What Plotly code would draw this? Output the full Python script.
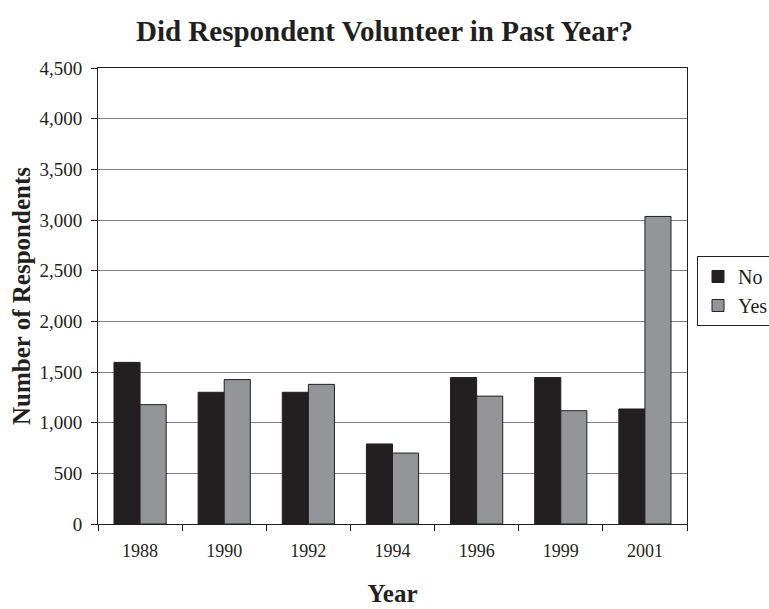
import plotly.graph_objects as go

years = ["1988", "1990", "1992", "1994", "1996", "1999", "2001"]
no_counts = [1595, 1300, 1300, 790, 1445, 1445, 1135]
yes_counts = [1178, 1425, 1378, 700, 1262, 1118, 3035]

FONT = "Liberation Serif"
DARK = "#231f20"
GREY = "#939598"

fig = go.Figure()
fig.add_trace(go.Bar(x=years, y=no_counts, name="No",
                     marker=dict(color=DARK, line=dict(color=DARK, width=1))))
fig.add_trace(go.Bar(x=years, y=yes_counts, name="Yes",
                     marker=dict(color=GREY, line=dict(color=DARK, width=1))))

fig.update_layout(
    width=769, height=609,
    margin=dict(l=98, r=82, t=68, b=85, autoexpand=False),
    paper_bgcolor="white", plot_bgcolor="white",
    font=dict(family=FONT, color="#231f20", size=18),
    barmode="group", bargap=0.38, bargroupgap=0,
    title=dict(text="<b>Did Respondent Volunteer in Past Year?</b>",
               x=0.5, xanchor="center", y=0.949, yanchor="middle",
               font=dict(size=29, family=FONT)),
    legend=dict(x=1.017, xanchor="left", y=0.511, yanchor="middle",
                bordercolor=DARK, borderwidth=1, font=dict(size=20),
                traceorder="normal", itemwidth=30, tracegroupgap=4),
    showlegend=True,
)
fig.update_xaxes(
    showline=True, linecolor=DARK, linewidth=1, mirror=True,
    ticks="outside", ticklen=6, tickcolor=DARK, tickson="boundaries",
    showgrid=False, tickfont=dict(size=18), ticklabelstandoff=10,
    title=dict(text="<b>Year</b>", font=dict(size=25, family=FONT), standoff=24),
)
fig.update_yaxes(
    range=[0, 4500], dtick=500, tickformat=",d",
    showline=True, linecolor=DARK, linewidth=1, mirror=True,
    ticks="outside", ticklen=6, tickcolor=DARK, tickfont=dict(size=19),
    ticklabelstandoff=5,
    showgrid=True, gridcolor="#808080", gridwidth=1,
    zeroline=False,
    title=dict(text="<b>Number of Respondents</b>", font=dict(size=25, family=FONT), standoff=1),
)

fig.write_html("out.html")
